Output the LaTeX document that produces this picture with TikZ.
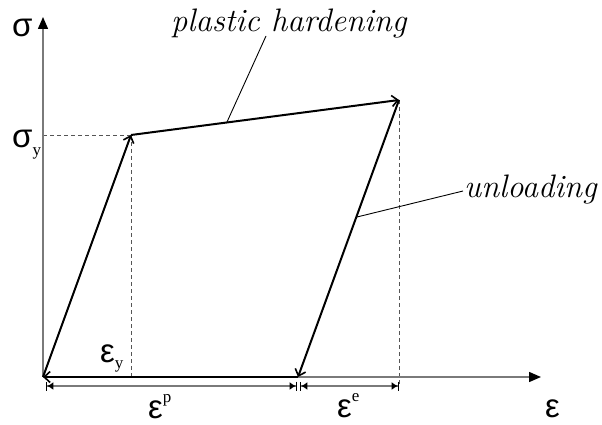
\documentclass[tikz,border=0pt]{standalone}
\usepackage{fontspec}
\usetikzlibrary{arrows.meta}
\newfontfamily\grk{Liberation Sans}
\newfontfamily\srf{Liberation Serif}
\definecolor{axisgray}{HTML}{7A7A7A}
\definecolor{dashgray}{HTML}{555555}
\tikzset{
  axisline/.style={draw=axisgray, line width=1.5pt, -{Triangle[length=12pt,width=10pt,fill=black,color=black]}},
  pathline/.style={draw=black, line width=2pt, -{Straight Barb[length=6pt,width=11pt,line width=1.6pt]}},
  dashline/.style={draw=dashgray, line width=0.9pt, dash pattern=on 4pt off 3pt},
  dimline/.style={draw=axisgray, line width=1.3pt, {Bar[width=9pt,line width=1.3pt,color=black]Latex[length=6pt,width=8pt,color=black]}-{Latex[length=6pt,width=8pt,color=black]Bar[width=9pt,line width=1.3pt,color=black]}},
  leader/.style={draw=black, line width=0.9pt},
  greek/.style={inner sep=0pt, anchor=base west, font=\grk\fontsize{33}{33}\selectfont},
  lbl/.style={inner sep=0pt, anchor=base west, font=\itshape\fontsize{32.5}{32.5}\selectfont},
}
\newcommand{\subsc}[2]{{\srf\fontsize{17}{17}\selectfont\raisebox{#1}{#2}}}
\begin{document}
\begin{tikzpicture}[x=1pt,y=-1pt]
\useasboundingbox (0,0) rectangle (602,425);
% key points
\coordinate (O) at (43,377);
\coordinate (A) at (131,135);
\coordinate (B) at (399,100);
\coordinate (C) at (298,377);
\coordinate (Ytop) at (43,17);
\coordinate (Xend) at (541,377);
\coordinate (SY) at (43,135);
\coordinate (AX) at (131,377);
\coordinate (BX) at (399,386);
\coordinate (D0) at (46,386);
\coordinate (D1) at (297,386);
\coordinate (D2) at (300,386);
\coordinate (D3) at (399,386);
\coordinate (PH) at (266,36);
\coordinate (PHa) at (227,122);
\coordinate (UL) at (463,191);
\coordinate (ULa) at (357,217);
% dashed guides
\draw[dashline] (SY) -- (A);
\draw[dashline] (A) -- (AX);
\draw[dashline] (B) -- (BX);
% axes
\draw[axisline] (O) -- (Ytop);
\draw[axisline] (O) -- (Xend);
% dimension lines
\draw[dimline] (D0) -- (D1);
\draw[dimline] (D2) -- (D3);
% loading path
\draw[pathline] (O) -- (A);
\draw[pathline] (A) -- (B);
\draw[pathline] (B) -- (C);
\draw[pathline] (C) -- (O);
% leaders
\draw[leader] (PH) -- (PHa);
\draw[leader] (UL) -- (ULa);
% labels
\node[lbl] (lph) at (171,32) {plastic hardening};
\node[lbl] (lul) at (464,197) {unloading};
\node[greek] (sig) at (12,37) {σ};
\node[greek] (sigy) at (12,147) {σ\subsc{-8pt}{y}};
\node[greek] (epsy) at (100,362) {ε\subsc{-6pt}{y}};
\node[greek] (epsp) at (148,418) {ε\subsc{16pt}{p}};
\node[greek] (epse) at (337,417) {ε\subsc{16pt}{e}};
\node[greek] (eps) at (545,417) {ε};
\end{tikzpicture}
\end{document}
